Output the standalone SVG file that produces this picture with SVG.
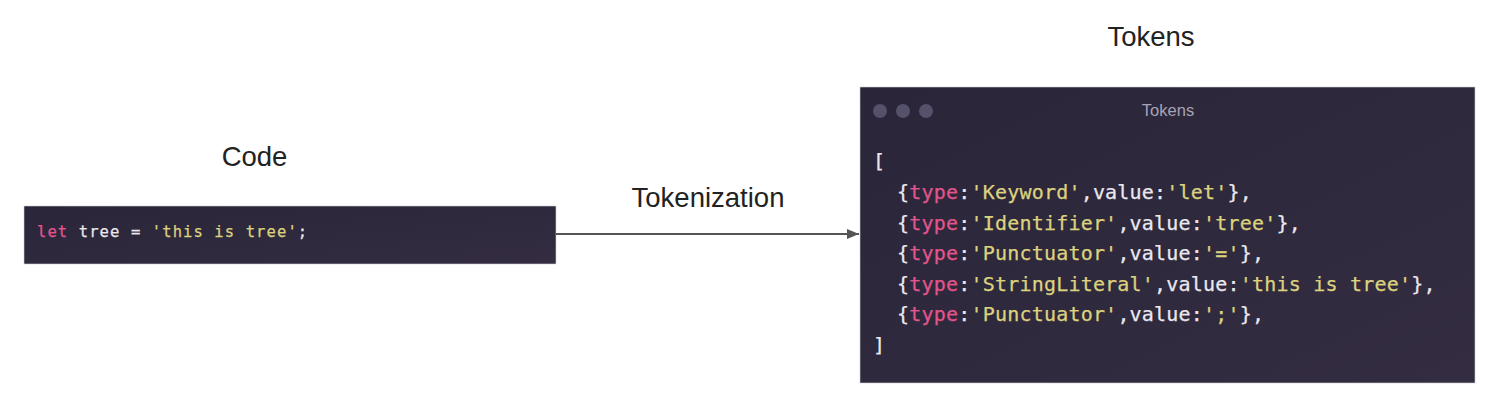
<svg xmlns="http://www.w3.org/2000/svg" width="1500" height="404" viewBox="0 0 1500 404">
<defs>
<linearGradient id="bg" x1="0" y1="0" x2="1" y2="1">
<stop offset="0" stop-color="#2a2538"/>
<stop offset="1" stop-color="#342d42"/>
</linearGradient>
<marker id="arr" markerWidth="12" markerHeight="10" refX="12" refY="5" orient="auto" markerUnits="userSpaceOnUse">
<path d="M0,0 L12,5 L0,10 Z" fill="#555555"/>
</marker>
<style>
.lbl{font-family:"Liberation Sans",Arial,sans-serif;font-size:27.5px;fill:#222222;text-anchor:middle}
.mono{font-family:"DejaVu Sans Mono","Liberation Mono",monospace;fill:#ebe8f0;stroke:#ebe8f0;stroke-width:0.25px}
.code{font-size:15.5px;letter-spacing:1.1px}
.tok{font-size:20px;letter-spacing:0.2px}
.kw{fill:#e2558c;stroke:#e2558c}
.str{fill:#ddd27e;stroke:#ddd27e}
.dot{fill:#56516a}
</style>
</defs>
<rect width="1500" height="404" fill="#ffffff"/>
<g id="code-node">
<text class="lbl" x="254.5" y="166">Code</text>
<rect x="24" y="206" width="532" height="58" fill="url(#bg)" stroke="#cfcfd4" stroke-width="0.6"/>
<text class="mono code" x="37" y="237"><tspan class="kw">let</tspan> tree = <tspan class="str">'this is tree'</tspan>;</text>
</g>
<g id="tokens-node">
<text class="lbl" x="1151" y="46">Tokens</text>
<rect x="860" y="87" width="615" height="296" fill="url(#bg)" stroke="#cfcfd4" stroke-width="0.6"/>
<circle class="dot" cx="880" cy="111" r="7"/>
<circle class="dot" cx="903" cy="111" r="7"/>
<circle class="dot" cx="926" cy="111" r="7"/>
<text x="1168" y="116" text-anchor="middle" font-family="Liberation Sans,Arial,sans-serif" font-size="16.5" fill="#a7a3b3">Tokens</text>
<g class="mono tok">
<text x="873" y="168">[</text>
<text x="897" y="199">{<tspan class="kw">type</tspan>:<tspan class="str">'Keyword'</tspan>,value:<tspan class="str">'let'</tspan>},</text>
<text x="897" y="229.5">{<tspan class="kw">type</tspan>:<tspan class="str">'Identifier'</tspan>,value:<tspan class="str">'tree'</tspan>},</text>
<text x="897" y="260">{<tspan class="kw">type</tspan>:<tspan class="str">'Punctuator'</tspan>,value:<tspan class="str">'='</tspan>},</text>
<text x="897" y="290.5">{<tspan class="kw">type</tspan>:<tspan class="str">'StringLiteral'</tspan>,value:<tspan class="str">'this is tree'</tspan>},</text>
<text x="897" y="321">{<tspan class="kw">type</tspan>:<tspan class="str">'Punctuator'</tspan>,value:<tspan class="str">';'</tspan>},</text>
<text x="873" y="351.5">]</text>
</g>
</g>
<g id="connectors">
<line x1="556" y1="234" x2="859" y2="234" stroke="#555555" stroke-width="2" marker-end="url(#arr)"/>
<text class="lbl" x="708" y="207">Tokenization</text>
</g>
</svg>
